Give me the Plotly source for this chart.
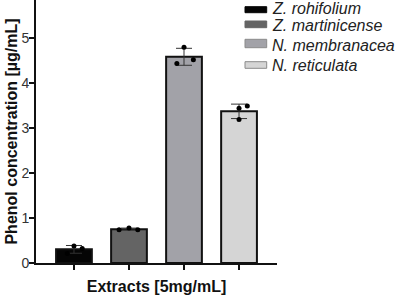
import numpy as np
import plotly.graph_objects as go

species = ["Z. rohifolium", "Z. martinicense", "N. membranacea", "N. reticulata"]
colors = ["#050505", "#646464", "#a2a2a8", "#d5d5d5"]
rep1 = [0.38, 0.74, 4.80, 3.44]
rep2 = [0.32, 0.78, 4.44, 3.49]
rep3 = [0.21, 0.74, 4.52, 3.19]
jitter = [[0.0, 0.15, -0.12], [-0.18, 0.0, 0.16], [0.0, -0.13, 0.17], [0.0, 0.15, 0.0]]

reps = np.array([rep1, rep2, rep3])
means = reps.mean(axis=0)
sds = reps.std(axis=0, ddof=1)

W, H = 401, 297
L, R, T, B = 36, 124, 0, 34
PW, PH = W - L - R, H - T - B


def px(x):
    return (x - L) / PW


def py(y):
    return (H - B - y) / PH


fig = go.Figure()
for i, name in enumerate(species):
    fig.add_trace(go.Bar(
        x=[i], y=[means[i]], name=name, width=0.65, showlegend=False,
        marker=dict(color=colors[i], line=dict(color="#111111", width=2)),
        error_y=dict(type="data", array=[sds[i]], color="#333333", thickness=1, width=8),
    ))
for i in range(len(species)):
    fig.add_trace(go.Scatter(
        x=[i + j for j in jitter[i]], y=list(reps[:, i]), mode="markers",
        marker=dict(color="#000000", size=5), showlegend=False, hoverinfo="skip",
    ))

# legend drawn as swatches + italic labels
sw_rows = [(6.7, 12.7), (21.0, 27.7), (39.3, 47.7), (61.7, 68.3)]
txt_rows = [9.0, 25.7, 45.0, 65.5]
shapes = []
annotations = []
for i, name in enumerate(species):
    y0, y1 = sw_rows[i]
    shapes.append(dict(type="rect", xref="paper", yref="paper",
                       x0=px(245), x1=px(266.7), y0=py(y1), y1=py(y0),
                       fillcolor=colors[i], line=dict(color="#8a8a8a" if i >= 2 else colors[i], width=1)))
    annotations.append(dict(text=name, xref="paper", yref="paper", x=px(270), y=py(txt_rows[i]),
                            xanchor="left", yanchor="middle", showarrow=False,
                            font=dict(size=16, color="#222222", style="italic")))

fig.update_layout(
    width=W, height=H,
    margin=dict(l=L, r=R, t=T, b=B, autoexpand=False),
    paper_bgcolor="white", plot_bgcolor="white",
    barmode="overlay",
    font=dict(family="Liberation Sans, Arial", color="#222222", size=14),
    shapes=shapes, annotations=annotations,
    xaxis=dict(range=[-0.69, 3.69], tickmode="array", tickvals=[0, 1, 2, 3],
               ticktext=["", "", "", ""], ticks="outside", ticklen=5, tickwidth=2,
               tickcolor="#111111", showline=True, linecolor="#111111", linewidth=2,
               showgrid=False, zeroline=False, automargin=False,
               title=dict(text="<b>Extracts [5mg/mL]</b>", font=dict(size=16, color="#111111"), standoff=9)),
    yaxis=dict(range=[0, 5.85], tickmode="array", tickvals=[0, 1, 2, 3, 4, 5],
               ticks="outside", ticklen=5, tickwidth=2, tickcolor="#111111",
               showline=True, linecolor="#111111", linewidth=2, showgrid=False, zeroline=False,
               automargin=False, tickfont=dict(size=14, color="#333333"), ticklabelstandoff=-3,
               title=dict(text="<b>Phenol concentration [µg/mL]</b>", font=dict(size=16, color="#111111"), standoff=0)),
)
fig.write_html("out.html", config={"displayModeBar": False},
               post_script="document.body.style.margin='0';document.body.style.overflow='hidden';")
